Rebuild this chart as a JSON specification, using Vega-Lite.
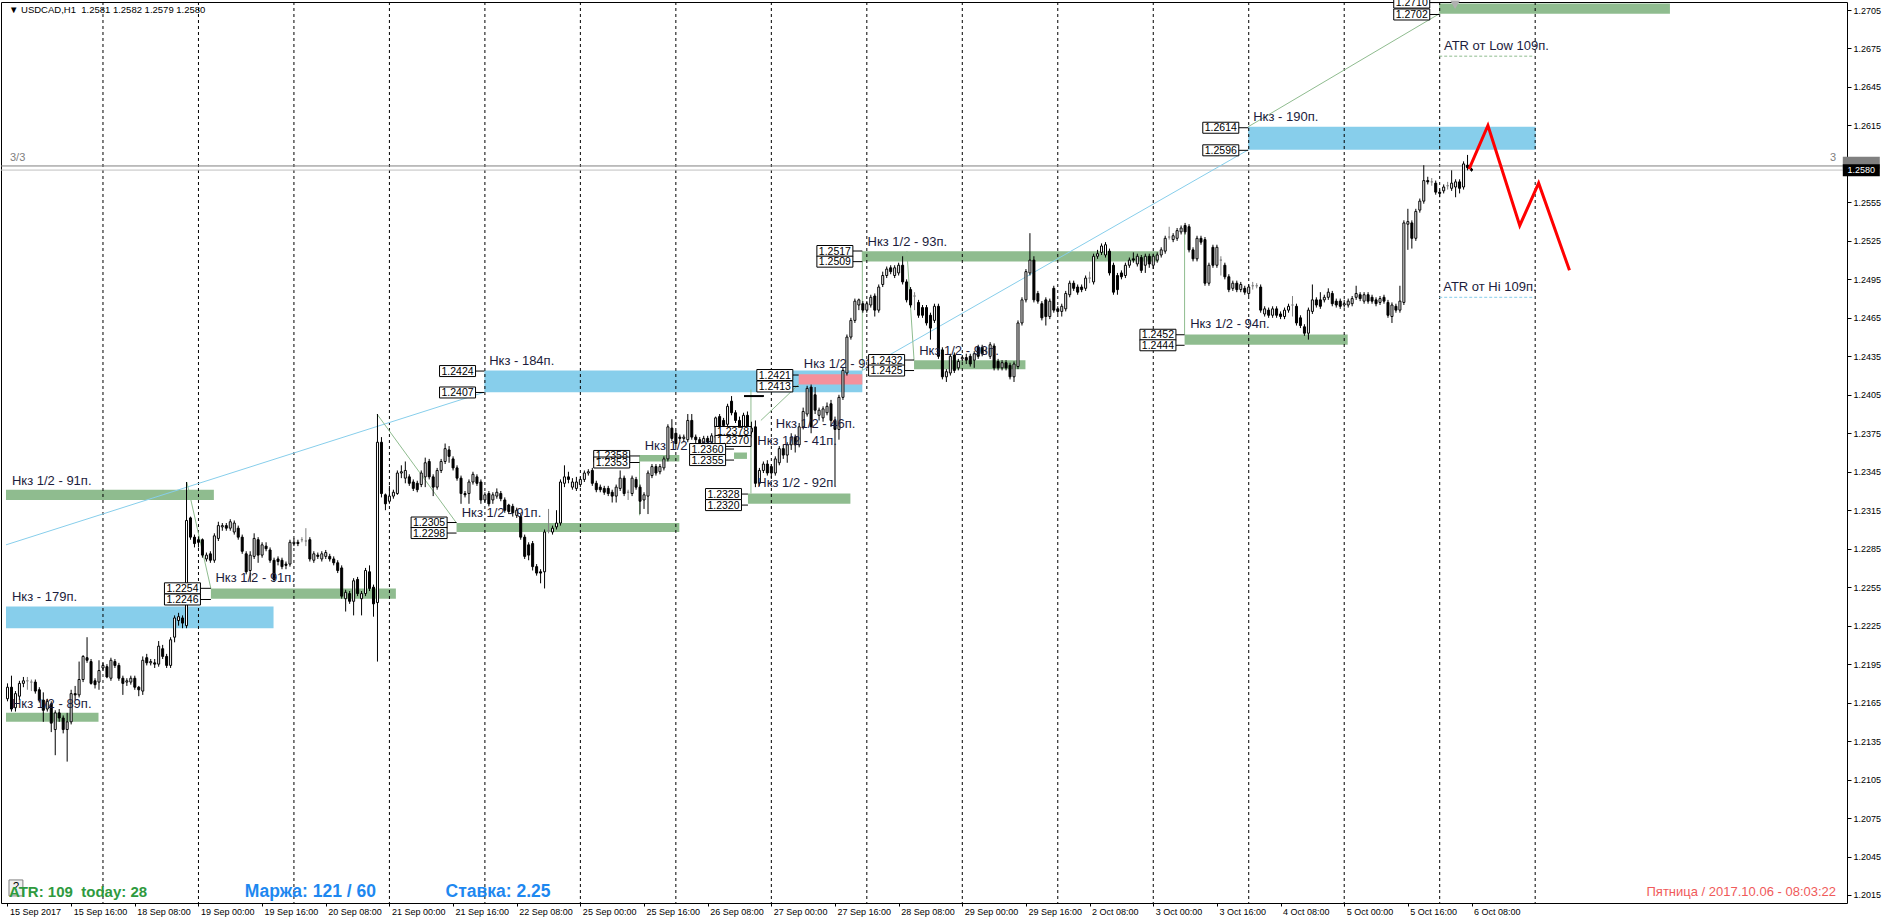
{
"$schema": "https://vega.github.io/schema/vega-lite/v6.json",
"width": 1846, "height": 901,
"autosize": "none",
"padding": {"left": 1, "top": 2, "right": 42, "bottom": 18},
"background": "white",
"view": {"stroke": "#000", "strokeWidth": 1},
"config": {"axis": {"labelOverlap": false}},
"resolve": {"axis": {"x": "independent", "y": "independent"}},
"datasets": {
"candles": [
{"i":0,"o":1.2168,"h":1.2180,"l":1.2166,"c":1.2177},{"i":1,"o":1.2177,"h":1.2186,"l":1.2158,"c":1.2160},{"i":2,"o":1.2161,"h":1.2174,"l":1.2158,"c":1.2172},{"i":3,"o":1.2170,"h":1.2182,"l":1.2167,"c":1.2180},{"i":4,"o":1.2180,"h":1.2185,"l":1.2177,"c":1.2182},{"i":5,"o":1.2182,"h":1.2185,"l":1.2175,"c":1.2182},{"i":6,"o":1.2181,"h":1.2183,"l":1.2174,"c":1.2181},{"i":7,"o":1.2181,"h":1.2183,"l":1.2172,"c":1.2174},{"i":8,"o":1.2175,"h":1.2177,"l":1.2165,"c":1.2167},{"i":9,"o":1.2167,"h":1.2173,"l":1.2150,"c":1.2159},
{"i":10,"o":1.2160,"h":1.2168,"l":1.2158,"c":1.2166},{"i":11,"o":1.2164,"h":1.2166,"l":1.2142,"c":1.2149},{"i":12,"o":1.2144,"h":1.2159,"l":1.2124,"c":1.2157},{"i":13,"o":1.2157,"h":1.2160,"l":1.2150,"c":1.2153},{"i":14,"o":1.2153,"h":1.2155,"l":1.2141,"c":1.2144},{"i":15,"o":1.2144,"h":1.2157,"l":1.2119,"c":1.2150},{"i":16,"o":1.2150,"h":1.2175,"l":1.2148,"c":1.2172},{"i":17,"o":1.2172,"h":1.2178,"l":1.2167,"c":1.2171},{"i":18,"o":1.2171,"h":1.2197,"l":1.2169,"c":1.2183},{"i":19,"o":1.2183,"h":1.2202,"l":1.2181,"c":1.2201},
{"i":20,"o":1.2200,"h":1.2216,"l":1.2196,"c":1.2198},{"i":21,"o":1.2197,"h":1.2199,"l":1.2179,"c":1.2180},{"i":22,"o":1.2182,"h":1.2184,"l":1.2176,"c":1.2179},{"i":23,"o":1.2181,"h":1.2198,"l":1.2175,"c":1.2190},{"i":24,"o":1.2192,"h":1.2196,"l":1.2190,"c":1.2194},{"i":25,"o":1.2193,"h":1.2195,"l":1.2184,"c":1.2185},{"i":26,"o":1.2184,"h":1.2200,"l":1.2182,"c":1.2198},{"i":27,"o":1.2197,"h":1.2199,"l":1.2192,"c":1.2194},{"i":28,"o":1.2194,"h":1.2196,"l":1.2182,"c":1.2184},{"i":29,"o":1.2184,"h":1.2186,"l":1.2171,"c":1.2180},
{"i":30,"o":1.2181,"h":1.2184,"l":1.2178,"c":1.2182},{"i":31,"o":1.2181,"h":1.2186,"l":1.2179,"c":1.2184},{"i":32,"o":1.2184,"h":1.2186,"l":1.2175,"c":1.2177},{"i":33,"o":1.2177,"h":1.2178,"l":1.2170,"c":1.2175},{"i":34,"o":1.2174,"h":1.2201,"l":1.2171,"c":1.2198},{"i":35,"o":1.2200,"h":1.2203,"l":1.2194,"c":1.2196},{"i":36,"o":1.2196,"h":1.2199,"l":1.2194,"c":1.2197},{"i":37,"o":1.2196,"h":1.2199,"l":1.2192,"c":1.2195},{"i":38,"o":1.2195,"h":1.2213,"l":1.2193,"c":1.2209},{"i":39,"o":1.2207,"h":1.2210,"l":1.2199,"c":1.2201},
{"i":40,"o":1.2201,"h":1.2203,"l":1.2192,"c":1.2194},{"i":41,"o":1.2194,"h":1.2216,"l":1.2192,"c":1.2214},{"i":42,"o":1.2216,"h":1.2233,"l":1.2212,"c":1.2231},{"i":43,"o":1.2229,"h":1.2235,"l":1.2225,"c":1.2232},{"i":44,"o":1.2231,"h":1.2233,"l":1.2223,"c":1.2227},{"i":45,"o":1.2225,"h":1.2337,"l":1.2223,"c":1.2307},{"i":46,"o":1.2309,"h":1.2310,"l":1.2292,"c":1.2294},{"i":47,"o":1.2294,"h":1.2296,"l":1.2286,"c":1.2289},{"i":48,"o":1.2292,"h":1.2294,"l":1.2286,"c":1.2290},{"i":49,"o":1.2292,"h":1.2293,"l":1.2278,"c":1.2280},
{"i":50,"o":1.2277,"h":1.2282,"l":1.2275,"c":1.2280},{"i":51,"o":1.2281,"h":1.2283,"l":1.2274,"c":1.2276},{"i":52,"o":1.2276,"h":1.2297,"l":1.2274,"c":1.2295},{"i":53,"o":1.2293,"h":1.2306,"l":1.2291,"c":1.2303},{"i":54,"o":1.2302,"h":1.2305,"l":1.2299,"c":1.2303},{"i":55,"o":1.2303,"h":1.2305,"l":1.2299,"c":1.2301},{"i":56,"o":1.2301,"h":1.2308,"l":1.2299,"c":1.2306},{"i":57,"o":1.2298,"h":1.2307,"l":1.2296,"c":1.2305},{"i":58,"o":1.2301,"h":1.2303,"l":1.2292,"c":1.2294},{"i":59,"o":1.2294,"h":1.2296,"l":1.2281,"c":1.2283},
{"i":60,"o":1.2281,"h":1.2283,"l":1.2265,"c":1.2267},{"i":61,"o":1.2268,"h":1.2283,"l":1.2259,"c":1.2280},{"i":62,"o":1.2279,"h":1.2297,"l":1.2277,"c":1.2293},{"i":63,"o":1.2292,"h":1.2294,"l":1.2274,"c":1.2280},{"i":64,"o":1.2280,"h":1.2290,"l":1.2278,"c":1.2288},{"i":65,"o":1.2287,"h":1.2290,"l":1.2283,"c":1.2285},{"i":66,"o":1.2284,"h":1.2286,"l":1.2274,"c":1.2276},{"i":67,"o":1.2276,"h":1.2278,"l":1.2259,"c":1.2261},{"i":68,"o":1.2277,"h":1.2279,"l":1.2272,"c":1.2275},{"i":69,"o":1.2276,"h":1.2278,"l":1.2269,"c":1.2271},
{"i":70,"o":1.2273,"h":1.2275,"l":1.2269,"c":1.2272},{"i":71,"o":1.2273,"h":1.2292,"l":1.2271,"c":1.2290},{"i":72,"o":1.2289,"h":1.2293,"l":1.2287,"c":1.2290},{"i":73,"o":1.2290,"h":1.2292,"l":1.2287,"c":1.2289},{"i":74,"o":1.2292,"h":1.2294,"l":1.2290,"c":1.2292},{"i":75,"o":1.2291,"h":1.2301,"l":1.2287,"c":1.2291},{"i":76,"o":1.2292,"h":1.2294,"l":1.2275,"c":1.2277},{"i":77,"o":1.2276,"h":1.2283,"l":1.2274,"c":1.2281},{"i":78,"o":1.2280,"h":1.2282,"l":1.2277,"c":1.2279},{"i":79,"o":1.2277,"h":1.2283,"l":1.2275,"c":1.2281},
{"i":80,"o":1.2279,"h":1.2284,"l":1.2277,"c":1.2282},{"i":81,"o":1.2279,"h":1.2281,"l":1.2275,"c":1.2277},{"i":82,"o":1.2277,"h":1.2279,"l":1.2272,"c":1.2274},{"i":83,"o":1.2274,"h":1.2276,"l":1.2266,"c":1.2268},{"i":84,"o":1.2270,"h":1.2272,"l":1.2246,"c":1.2248},{"i":85,"o":1.2246,"h":1.2253,"l":1.2236,"c":1.2251},{"i":86,"o":1.2250,"h":1.2252,"l":1.2242,"c":1.2244},{"i":87,"o":1.2244,"h":1.2262,"l":1.2233,"c":1.2260},{"i":88,"o":1.2261,"h":1.2263,"l":1.2248,"c":1.2250},{"i":89,"o":1.2246,"h":1.2252,"l":1.2233,"c":1.2250},
{"i":90,"o":1.2250,"h":1.2270,"l":1.2248,"c":1.2268},{"i":91,"o":1.2267,"h":1.2272,"l":1.2252,"c":1.2254},{"i":92,"o":1.2255,"h":1.2257,"l":1.2232,"c":1.2242},{"i":93,"o":1.2243,"h":1.2390,"l":1.2197,"c":1.2368},{"i":94,"o":1.2368,"h":1.2372,"l":1.2325,"c":1.2328},{"i":95,"o":1.2327,"h":1.2328,"l":1.2315,"c":1.2320},{"i":96,"o":1.2322,"h":1.2334,"l":1.2320,"c":1.2326},{"i":97,"o":1.2326,"h":1.2331,"l":1.2324,"c":1.2329},{"i":98,"o":1.2328,"h":1.2346,"l":1.2327,"c":1.2344},{"i":99,"o":1.2344,"h":1.2350,"l":1.2340,"c":1.2345},
{"i":100,"o":1.2340,"h":1.2353,"l":1.2336,"c":1.2346},{"i":101,"o":1.2341,"h":1.2343,"l":1.2334,"c":1.2336},{"i":102,"o":1.2337,"h":1.2339,"l":1.2330,"c":1.2332},{"i":103,"o":1.2336,"h":1.2338,"l":1.2329,"c":1.2331},{"i":104,"o":1.2335,"h":1.2346,"l":1.2333,"c":1.2344},{"i":105,"o":1.2341,"h":1.2356,"l":1.2333,"c":1.2352},{"i":106,"o":1.2353,"h":1.2355,"l":1.2339,"c":1.2341},{"i":107,"o":1.2341,"h":1.2343,"l":1.2326,"c":1.2333},{"i":108,"o":1.2333,"h":1.2348,"l":1.2331,"c":1.2346},{"i":109,"o":1.2346,"h":1.2355,"l":1.2344,"c":1.2353},
{"i":110,"o":1.2353,"h":1.2367,"l":1.2351,"c":1.2363},{"i":111,"o":1.2362,"h":1.2365,"l":1.2352,"c":1.2357},{"i":112,"o":1.2355,"h":1.2357,"l":1.2346,"c":1.2348},{"i":113,"o":1.2348,"h":1.2350,"l":1.2338,"c":1.2340},{"i":114,"o":1.2340,"h":1.2342,"l":1.2320,"c":1.2328},{"i":115,"o":1.2328,"h":1.2330,"l":1.2325,"c":1.2327},{"i":116,"o":1.2328,"h":1.2339,"l":1.2320,"c":1.2337},{"i":117,"o":1.2337,"h":1.2345,"l":1.2335,"c":1.2343},{"i":118,"o":1.2341,"h":1.2343,"l":1.2334,"c":1.2336},{"i":119,"o":1.2337,"h":1.2339,"l":1.2320,"c":1.2323},
{"i":120,"o":1.2323,"h":1.2329,"l":1.2321,"c":1.2327},{"i":121,"o":1.2328,"h":1.2330,"l":1.2318,"c":1.2320},{"i":122,"o":1.2323,"h":1.2329,"l":1.2320,"c":1.2327},{"i":123,"o":1.2326,"h":1.2332,"l":1.2324,"c":1.2329},{"i":124,"o":1.2328,"h":1.2330,"l":1.2322,"c":1.2324},{"i":125,"o":1.2323,"h":1.2325,"l":1.2313,"c":1.2315},{"i":126,"o":1.2319,"h":1.2320,"l":1.2312,"c":1.2314},{"i":127,"o":1.2318,"h":1.2320,"l":1.2310,"c":1.2313},{"i":128,"o":1.2311,"h":1.2317,"l":1.2309,"c":1.2315},{"i":129,"o":1.2310,"h":1.2312,"l":1.2292,"c":1.2294},
{"i":130,"o":1.2294,"h":1.2296,"l":1.2277,"c":1.2279},{"i":131,"o":1.2288,"h":1.2290,"l":1.2276,"c":1.2280},{"i":132,"o":1.2289,"h":1.2291,"l":1.2268,"c":1.2271},{"i":133,"o":1.2271,"h":1.2273,"l":1.2264,"c":1.2266},{"i":134,"o":1.2267,"h":1.2269,"l":1.2258,"c":1.2266},{"i":135,"o":1.2267,"h":1.2300,"l":1.2254,"c":1.2298},{"i":136,"o":1.2299,"h":1.2316,"l":1.2297,"c":1.2299},{"i":137,"o":1.2298,"h":1.2303,"l":1.2296,"c":1.2301},{"i":138,"o":1.2302,"h":1.2315,"l":1.2300,"c":1.2305},{"i":139,"o":1.2305,"h":1.2339,"l":1.2303,"c":1.2337},
{"i":140,"o":1.2336,"h":1.2350,"l":1.2333,"c":1.2341},{"i":141,"o":1.2341,"h":1.2345,"l":1.2336,"c":1.2339},{"i":142,"o":1.2333,"h":1.2340,"l":1.2331,"c":1.2337},{"i":143,"o":1.2332,"h":1.2341,"l":1.2330,"c":1.2337},{"i":144,"o":1.2335,"h":1.2341,"l":1.2333,"c":1.2339},{"i":145,"o":1.2339,"h":1.2346,"l":1.2337,"c":1.2344},{"i":146,"o":1.2344,"h":1.2347,"l":1.2342,"c":1.2345},{"i":147,"o":1.2346,"h":1.2348,"l":1.2334,"c":1.2336},{"i":148,"o":1.2336,"h":1.2338,"l":1.2329,"c":1.2331},{"i":149,"o":1.2333,"h":1.2335,"l":1.2329,"c":1.2331},
{"i":150,"o":1.2332,"h":1.2334,"l":1.2327,"c":1.2329},{"i":151,"o":1.2332,"h":1.2334,"l":1.2326,"c":1.2328},{"i":152,"o":1.2329,"h":1.2331,"l":1.2321,"c":1.2326},{"i":153,"o":1.2326,"h":1.2335,"l":1.2321,"c":1.2333},{"i":154,"o":1.2332,"h":1.2346,"l":1.2330,"c":1.2340},{"i":155,"o":1.2340,"h":1.2342,"l":1.2326,"c":1.2328},{"i":156,"o":1.2329,"h":1.2331,"l":1.2323,"c":1.2329},{"i":157,"o":1.2328,"h":1.2342,"l":1.2326,"c":1.2340},{"i":158,"o":1.2339,"h":1.2341,"l":1.2331,"c":1.2333},{"i":159,"o":1.2333,"h":1.2335,"l":1.2312,"c":1.2322},
{"i":160,"o":1.2323,"h":1.2329,"l":1.2316,"c":1.2327},{"i":161,"o":1.2326,"h":1.2346,"l":1.2312,"c":1.2344},{"i":162,"o":1.2342,"h":1.2351,"l":1.2340,"c":1.2349},{"i":163,"o":1.2349,"h":1.2351,"l":1.2342,"c":1.2344},{"i":164,"o":1.2345,"h":1.2351,"l":1.2343,"c":1.2349},{"i":165,"o":1.2348,"h":1.2357,"l":1.2346,"c":1.2355},{"i":166,"o":1.2355,"h":1.2382,"l":1.2353,"c":1.2380},{"i":167,"o":1.2379,"h":1.2386,"l":1.2369,"c":1.2371},{"i":168,"o":1.2375,"h":1.2377,"l":1.2365,"c":1.2367},{"i":169,"o":1.2372,"h":1.2374,"l":1.2369,"c":1.2371},
{"i":170,"o":1.2371,"h":1.2374,"l":1.2368,"c":1.2372},{"i":171,"o":1.2370,"h":1.2390,"l":1.2368,"c":1.2385},{"i":172,"o":1.2385,"h":1.2390,"l":1.2370,"c":1.2372},{"i":173,"o":1.2372,"h":1.2374,"l":1.2367,"c":1.2370},{"i":174,"o":1.2370,"h":1.2372,"l":1.2365,"c":1.2367},{"i":175,"o":1.2367,"h":1.2373,"l":1.2365,"c":1.2371},{"i":176,"o":1.2371,"h":1.2373,"l":1.2366,"c":1.2368},{"i":177,"o":1.2368,"h":1.2375,"l":1.2366,"c":1.2373},{"i":178,"o":1.2380,"h":1.2388,"l":1.2371,"c":1.2387},{"i":179,"o":1.2388,"h":1.2390,"l":1.2378,"c":1.2380},
{"i":180,"o":1.2385,"h":1.2387,"l":1.2379,"c":1.2381},{"i":181,"o":1.2382,"h":1.2398,"l":1.2380,"c":1.2396},{"i":182,"o":1.2400,"h":1.2404,"l":1.2389,"c":1.2391},{"i":183,"o":1.2391,"h":1.2393,"l":1.2383,"c":1.2385},{"i":184,"o":1.2385,"h":1.2388,"l":1.2378,"c":1.2380},{"i":185,"o":1.2378,"h":1.2391,"l":1.2376,"c":1.2389},{"i":186,"o":1.2389,"h":1.2392,"l":1.2373,"c":1.2375},{"i":187,"o":1.2376,"h":1.2384,"l":1.2374,"c":1.2379},{"i":188,"o":1.2380,"h":1.2385,"l":1.2333,"c":1.2336},{"i":189,"o":1.2336,"h":1.2348,"l":1.2334,"c":1.2346},
{"i":190,"o":1.2346,"h":1.2353,"l":1.2344,"c":1.2351},{"i":191,"o":1.2351,"h":1.2354,"l":1.2342,"c":1.2344},{"i":192,"o":1.2349,"h":1.2351,"l":1.2340,"c":1.2344},{"i":193,"o":1.2344,"h":1.2357,"l":1.2342,"c":1.2355},{"i":194,"o":1.2352,"h":1.2365,"l":1.2350,"c":1.2363},{"i":195,"o":1.2363,"h":1.2366,"l":1.2355,"c":1.2358},{"i":196,"o":1.2358,"h":1.2368,"l":1.2352,"c":1.2366},{"i":197,"o":1.2366,"h":1.2375,"l":1.2362,"c":1.2372},{"i":198,"o":1.2372,"h":1.2374,"l":1.2360,"c":1.2366},{"i":199,"o":1.2366,"h":1.2383,"l":1.2364,"c":1.2380},
{"i":200,"o":1.2380,"h":1.2395,"l":1.2378,"c":1.2392},{"i":201,"o":1.2390,"h":1.2412,"l":1.2388,"c":1.2410},{"i":202,"o":1.2411,"h":1.2413,"l":1.2375,"c":1.2380},{"i":203,"o":1.2405,"h":1.2411,"l":1.2390,"c":1.2393},{"i":204,"o":1.2389,"h":1.2395,"l":1.2385,"c":1.2393},{"i":205,"o":1.2387,"h":1.2396,"l":1.2384,"c":1.2394},{"i":206,"o":1.2391,"h":1.2399,"l":1.2389,"c":1.2396},{"i":207,"o":1.2398,"h":1.2401,"l":1.2380,"c":1.2385},{"i":208,"o":1.2385,"h":1.2388,"l":1.2334,"c":1.2378},{"i":209,"o":1.2378,"h":1.2405,"l":1.2370,"c":1.2403},
{"i":210,"o":1.2403,"h":1.2426,"l":1.2401,"c":1.2424},{"i":211,"o":1.2422,"h":1.2452,"l":1.2420,"c":1.2450},{"i":212,"o":1.2450,"h":1.2465,"l":1.2448,"c":1.2463},{"i":213,"o":1.2463,"h":1.2480,"l":1.2461,"c":1.2478},{"i":214,"o":1.2475,"h":1.2480,"l":1.2471,"c":1.2479},{"i":215,"o":1.2476,"h":1.2478,"l":1.2469,"c":1.2471},{"i":216,"o":1.2471,"h":1.2478,"l":1.2469,"c":1.2476},{"i":217,"o":1.2475,"h":1.2483,"l":1.2473,"c":1.2481},{"i":218,"o":1.2482,"h":1.2484,"l":1.2466,"c":1.2471},{"i":219,"o":1.2471,"h":1.2491,"l":1.2469,"c":1.2489},
{"i":220,"o":1.2491,"h":1.2501,"l":1.2489,"c":1.2498},{"i":221,"o":1.2498,"h":1.2505,"l":1.2496,"c":1.2503},{"i":222,"o":1.2504,"h":1.2506,"l":1.2499,"c":1.2501},{"i":223,"o":1.2498,"h":1.2506,"l":1.2496,"c":1.2504},{"i":224,"o":1.2500,"h":1.2508,"l":1.2498,"c":1.2506},{"i":225,"o":1.2506,"h":1.2513,"l":1.2491,"c":1.2493},{"i":226,"o":1.2493,"h":1.2495,"l":1.2477,"c":1.2479},{"i":227,"o":1.2487,"h":1.2489,"l":1.2473,"c":1.2475},{"i":228,"o":1.2482,"h":1.2485,"l":1.2471,"c":1.2482},{"i":229,"o":1.2477,"h":1.2479,"l":1.2465,"c":1.2467},
{"i":230,"o":1.2473,"h":1.2475,"l":1.2465,"c":1.2467},{"i":231,"o":1.2473,"h":1.2475,"l":1.2459,"c":1.2461},{"i":232,"o":1.2467,"h":1.2469,"l":1.2448,"c":1.2457},{"i":233,"o":1.2463,"h":1.2476,"l":1.2461,"c":1.2474},{"i":234,"o":1.2474,"h":1.2476,"l":1.2433,"c":1.2435},{"i":235,"o":1.2440,"h":1.2442,"l":1.2417,"c":1.2419},{"i":236,"o":1.2419,"h":1.2425,"l":1.2415,"c":1.2423},{"i":237,"o":1.2422,"h":1.2437,"l":1.2420,"c":1.2435},{"i":238,"o":1.2436,"h":1.2438,"l":1.2422,"c":1.2424},{"i":239,"o":1.2426,"h":1.2433,"l":1.2424,"c":1.2431},
{"i":240,"o":1.2433,"h":1.2436,"l":1.2431,"c":1.2434},{"i":241,"o":1.2434,"h":1.2437,"l":1.2429,"c":1.2432},{"i":242,"o":1.2435,"h":1.2437,"l":1.2427,"c":1.2429},{"i":243,"o":1.2432,"h":1.2439,"l":1.2426,"c":1.2437},{"i":244,"o":1.2442,"h":1.2444,"l":1.2433,"c":1.2435},{"i":245,"o":1.2442,"h":1.2444,"l":1.2435,"c":1.2437},{"i":246,"o":1.2439,"h":1.2442,"l":1.2436,"c":1.2439},{"i":247,"o":1.2435,"h":1.2446,"l":1.2433,"c":1.2444},{"i":248,"o":1.2443,"h":1.2445,"l":1.2424,"c":1.2426},{"i":249,"o":1.2431,"h":1.2433,"l":1.2424,"c":1.2426},
{"i":250,"o":1.2426,"h":1.2432,"l":1.2424,"c":1.2430},{"i":251,"o":1.2430,"h":1.2432,"l":1.2424,"c":1.2426},{"i":252,"o":1.2428,"h":1.2430,"l":1.2417,"c":1.2419},{"i":253,"o":1.2419,"h":1.2431,"l":1.2415,"c":1.2429},{"i":254,"o":1.2427,"h":1.2463,"l":1.2425,"c":1.2461},{"i":255,"o":1.2461,"h":1.2481,"l":1.2459,"c":1.2479},{"i":256,"o":1.2479,"h":1.2503,"l":1.2477,"c":1.2501},{"i":257,"o":1.2500,"h":1.2531,"l":1.2498,"c":1.2510},{"i":258,"o":1.2510,"h":1.2513,"l":1.2477,"c":1.2479},{"i":259,"o":1.2484,"h":1.2486,"l":1.2476,"c":1.2478},
{"i":260,"o":1.2476,"h":1.2478,"l":1.2463,"c":1.2465},{"i":261,"o":1.2479,"h":1.2481,"l":1.2459,"c":1.2466},{"i":262,"o":1.2466,"h":1.2480,"l":1.2464,"c":1.2478},{"i":263,"o":1.2488,"h":1.2490,"l":1.2469,"c":1.2471},{"i":264,"o":1.2472,"h":1.2474,"l":1.2468,"c":1.2470},{"i":265,"o":1.2470,"h":1.2476,"l":1.2466,"c":1.2474},{"i":266,"o":1.2472,"h":1.2486,"l":1.2470,"c":1.2484},{"i":267,"o":1.2483,"h":1.2494,"l":1.2481,"c":1.2492},{"i":268,"o":1.2492,"h":1.2494,"l":1.2486,"c":1.2488},{"i":269,"o":1.2489,"h":1.2491,"l":1.2483,"c":1.2485},
{"i":270,"o":1.2489,"h":1.2491,"l":1.2485,"c":1.2487},{"i":271,"o":1.2488,"h":1.2498,"l":1.2486,"c":1.2496},{"i":272,"o":1.2496,"h":1.2501,"l":1.2492,"c":1.2496},{"i":273,"o":1.2493,"h":1.2515,"l":1.2491,"c":1.2513},{"i":274,"o":1.2513,"h":1.2518,"l":1.2511,"c":1.2515},{"i":275,"o":1.2516,"h":1.2523,"l":1.2514,"c":1.2521},{"i":276,"o":1.2514,"h":1.2524,"l":1.2512,"c":1.2522},{"i":277,"o":1.2517,"h":1.2519,"l":1.2498,"c":1.2500},{"i":278,"o":1.2506,"h":1.2508,"l":1.2483,"c":1.2485},{"i":279,"o":1.2498,"h":1.2500,"l":1.2483,"c":1.2487},
{"i":280,"o":1.2500,"h":1.2502,"l":1.2495,"c":1.2497},{"i":281,"o":1.2498,"h":1.2508,"l":1.2496,"c":1.2506},{"i":282,"o":1.2506,"h":1.2512,"l":1.2504,"c":1.2510},{"i":283,"o":1.2511,"h":1.2516,"l":1.2508,"c":1.2510},{"i":284,"o":1.2507,"h":1.2515,"l":1.2505,"c":1.2513},{"i":285,"o":1.2512,"h":1.2514,"l":1.2500,"c":1.2502},{"i":286,"o":1.2506,"h":1.2515,"l":1.2500,"c":1.2513},{"i":287,"o":1.2513,"h":1.2515,"l":1.2504,"c":1.2507},{"i":288,"o":1.2506,"h":1.2515,"l":1.2503,"c":1.2513},{"i":289,"o":1.2510,"h":1.2516,"l":1.2508,"c":1.2514},
{"i":290,"o":1.2514,"h":1.2520,"l":1.2512,"c":1.2518},{"i":291,"o":1.2517,"h":1.2529,"l":1.2515,"c":1.2527},{"i":292,"o":1.2528,"h":1.2536,"l":1.2526,"c":1.2528},{"i":293,"o":1.2526,"h":1.2531,"l":1.2524,"c":1.2529},{"i":294,"o":1.2527,"h":1.2535,"l":1.2525,"c":1.2533},{"i":295,"o":1.2532,"h":1.2537,"l":1.2530,"c":1.2535},{"i":296,"o":1.2537,"h":1.2539,"l":1.2530,"c":1.2532},{"i":297,"o":1.2536,"h":1.2538,"l":1.2516,"c":1.2518},{"i":298,"o":1.2518,"h":1.2520,"l":1.2509,"c":1.2511},{"i":299,"o":1.2511,"h":1.2529,"l":1.2509,"c":1.2527},
{"i":300,"o":1.2527,"h":1.2529,"l":1.2522,"c":1.2524},{"i":301,"o":1.2526,"h":1.2528,"l":1.2490,"c":1.2492},{"i":302,"o":1.2492,"h":1.2508,"l":1.2490,"c":1.2506},{"i":303,"o":1.2520,"h":1.2522,"l":1.2504,"c":1.2506},{"i":304,"o":1.2506,"h":1.2522,"l":1.2504,"c":1.2520},{"i":305,"o":1.2510,"h":1.2513,"l":1.2498,"c":1.2510},{"i":306,"o":1.2506,"h":1.2508,"l":1.2495,"c":1.2497},{"i":307,"o":1.2497,"h":1.2499,"l":1.2485,"c":1.2487},{"i":308,"o":1.2488,"h":1.2494,"l":1.2486,"c":1.2492},{"i":309,"o":1.2492,"h":1.2494,"l":1.2485,"c":1.2487},
{"i":310,"o":1.2487,"h":1.2493,"l":1.2485,"c":1.2491},{"i":311,"o":1.2488,"h":1.2490,"l":1.2483,"c":1.2485},{"i":312,"o":1.2484,"h":1.2491,"l":1.2482,"c":1.2489},{"i":313,"o":1.2490,"h":1.2493,"l":1.2487,"c":1.2490},{"i":314,"o":1.2490,"h":1.2492,"l":1.2488,"c":1.2490},{"i":315,"o":1.2489,"h":1.2491,"l":1.2469,"c":1.2471},{"i":316,"o":1.2468,"h":1.2474,"l":1.2466,"c":1.2472},{"i":317,"o":1.2471,"h":1.2473,"l":1.2465,"c":1.2467},{"i":318,"o":1.2467,"h":1.2474,"l":1.2465,"c":1.2472},{"i":319,"o":1.2472,"h":1.2474,"l":1.2465,"c":1.2467},
{"i":320,"o":1.2468,"h":1.2470,"l":1.2464,"c":1.2466},{"i":321,"o":1.2466,"h":1.2473,"l":1.2464,"c":1.2471},{"i":322,"o":1.2471,"h":1.2476,"l":1.2469,"c":1.2474},{"i":323,"o":1.2475,"h":1.2482,"l":1.2466,"c":1.2475},{"i":324,"o":1.2474,"h":1.2476,"l":1.2459,"c":1.2461},{"i":325,"o":1.2465,"h":1.2467,"l":1.2457,"c":1.2459},{"i":326,"o":1.2458,"h":1.2460,"l":1.2451,"c":1.2453},{"i":327,"o":1.2453,"h":1.2473,"l":1.2448,"c":1.2471},{"i":328,"o":1.2470,"h":1.2491,"l":1.2468,"c":1.2479},{"i":329,"o":1.2479,"h":1.2481,"l":1.2473,"c":1.2475},
{"i":330,"o":1.2479,"h":1.2485,"l":1.2472,"c":1.2474},{"i":331,"o":1.2479,"h":1.2483,"l":1.2477,"c":1.2481},{"i":332,"o":1.2481,"h":1.2488,"l":1.2479,"c":1.2485},{"i":333,"o":1.2484,"h":1.2486,"l":1.2474,"c":1.2476},{"i":334,"o":1.2478,"h":1.2480,"l":1.2473,"c":1.2475},{"i":335,"o":1.2478,"h":1.2480,"l":1.2472,"c":1.2474},{"i":336,"o":1.2475,"h":1.2479,"l":1.2473,"c":1.2476},{"i":337,"o":1.2475,"h":1.2480,"l":1.2473,"c":1.2478},{"i":338,"o":1.2476,"h":1.2482,"l":1.2474,"c":1.2480},{"i":339,"o":1.2481,"h":1.2490,"l":1.2479,"c":1.2484},
{"i":340,"o":1.2483,"h":1.2485,"l":1.2478,"c":1.2480},{"i":341,"o":1.2478,"h":1.2485,"l":1.2476,"c":1.2483},{"i":342,"o":1.2483,"h":1.2485,"l":1.2476,"c":1.2478},{"i":343,"o":1.2481,"h":1.2483,"l":1.2476,"c":1.2478},{"i":344,"o":1.2479,"h":1.2481,"l":1.2474,"c":1.2476},{"i":345,"o":1.2477,"h":1.2482,"l":1.2475,"c":1.2480},{"i":346,"o":1.2481,"h":1.2483,"l":1.2476,"c":1.2478},{"i":347,"o":1.2477,"h":1.2479,"l":1.2465,"c":1.2467},{"i":348,"o":1.2466,"h":1.2477,"l":1.2461,"c":1.2475},{"i":349,"o":1.2474,"h":1.2476,"l":1.2469,"c":1.2471},
{"i":350,"o":1.2471,"h":1.2490,"l":1.2469,"c":1.2478},{"i":351,"o":1.2477,"h":1.2541,"l":1.2475,"c":1.2539},{"i":352,"o":1.2538,"h":1.2550,"l":1.2518,"c":1.2540},{"i":353,"o":1.2539,"h":1.2541,"l":1.2519,"c":1.2527},{"i":354,"o":1.2527,"h":1.2550,"l":1.2525,"c":1.2548},{"i":355,"o":1.2549,"h":1.2558,"l":1.2547,"c":1.2556},{"i":356,"o":1.2556,"h":1.2584,"l":1.2554,"c":1.2572},{"i":357,"o":1.2572,"h":1.2575,"l":1.2569,"c":1.2571},{"i":358,"o":1.2571,"h":1.2574,"l":1.2568,"c":1.2571},{"i":359,"o":1.2570,"h":1.2572,"l":1.2561,"c":1.2563},
{"i":360,"o":1.2563,"h":1.2565,"l":1.2559,"c":1.2562},{"i":361,"o":1.2564,"h":1.2569,"l":1.2562,"c":1.2567},{"i":362,"o":1.2568,"h":1.2571,"l":1.2565,"c":1.2568},{"i":363,"o":1.2566,"h":1.2580,"l":1.2564,"c":1.2570},{"i":364,"o":1.2567,"h":1.2573,"l":1.2559,"c":1.2571},{"i":365,"o":1.2571,"h":1.2573,"l":1.2562,"c":1.2566},{"i":366,"o":1.2567,"h":1.2587,"l":1.2565,"c":1.2585},{"i":367,"o":1.2584,"h":1.2592,"l":1.2580,"c":1.2582},{"i":368,"o":1.2581,"h":1.2582,"l":1.2579,"c":1.2580}
],
"grid": [{"i":24},{"i":48},{"i":72},{"i":96},{"i":120},{"i":144},{"i":168},{"i":192},{"i":216},{"i":240},{"i":264},{"i":288},{"i":312},{"i":336},{"i":360},{"i":384}],
"zones": [
{"x1":-0.25,"x2":52,"y1":1.2331,"y2":1.2323,"k":"g"},
{"x1":-0.25,"x2":67,"y1":1.2240,"y2":1.2223,"k":"b"},
{"x1":-0.25,"x2":23,"y1":1.2157,"y2":1.2150,"k":"g"},
{"x1":51.25,"x2":97.75,"y1":1.2254,"y2":1.2246,"k":"g"},
{"x1":120,"x2":215,"y1":1.2424,"y2":1.2407,"k":"b"},
{"x1":199,"x2":215,"y1":1.2421,"y2":1.2413,"k":"p"},
{"x1":215,"x2":289.5,"y1":1.2517,"y2":1.2509,"k":"g"},
{"x1":228,"x2":256,"y1":1.2432,"y2":1.2425,"k":"g"},
{"x1":296,"x2":337,"y1":1.2452,"y2":1.2444,"k":"g"},
{"x1":186.25,"x2":212,"y1":1.2328,"y2":1.2320,"k":"g"},
{"x1":113,"x2":169,"y1":1.2305,"y2":1.2298,"k":"g"},
{"x1":159,"x2":169,"y1":1.2358,"y2":1.2353,"k":"g"},
{"x1":182.75,"x2":186,"y1":1.2360,"y2":1.2355,"k":"g"},
{"x1":312,"x2":384.25,"y1":1.2614,"y2":1.2596,"k":"b"},
{"x1":360,"x2":418,"y1":1.2710,"y2":1.2702,"k":"g"}
],
"tlines": [
{"x1":-0.25,"y1":1.2288,"x2":120,"y2":1.2407,"k":"b"},
{"x1":215,"y1":1.2424,"x2":312,"y2":1.2596,"k":"b"},
{"x1":312,"y1":1.2614,"x2":360,"y2":1.2702,"k":"g"},
{"x1":45.2,"y1":1.2337,"x2":51.25,"y2":1.2254,"k":"g"},
{"x1":93,"y1":1.2390,"x2":113,"y2":1.2305,"k":"g"},
{"x1":215,"y1":1.2517,"x2":215,"y2":1.2424,"k":"g"},
{"x1":226.2,"y1":1.2517,"x2":228,"y2":1.2432,"k":"g"},
{"x1":296,"y1":1.2537,"x2":296,"y2":1.2452,"k":"g"},
{"x1":159,"y1":1.2358,"x2":159,"y2":1.2311,"k":"g"},
{"x1":187,"y1":1.2409,"x2":187,"y2":1.2328,"k":"g"},
{"x1":189.5,"y1":1.2385,"x2":199,"y2":1.2413,"k":"g"}
],
"conn": [
{"x1":48.6,"x2":51.25,"y":1.22541},{"x1":48.6,"x2":51.25,"y":1.22454},
{"x1":117.75,"x2":120,"y":1.24235},{"x1":117.75,"x2":120,"y":1.24068},
{"x1":110.6,"x2":113,"y":1.23054},{"x1":110.6,"x2":113,"y":1.22972},
{"x1":156.5,"x2":159,"y":1.23573},{"x1":156.5,"x2":159,"y":1.23522},
{"x1":197.5,"x2":199,"y":1.24204},{"x1":197.5,"x2":199,"y":1.24115},
{"x1":184.6,"x2":186.25,"y":1.23276},{"x1":184.6,"x2":186.25,"y":1.23190},
{"x1":180.6,"x2":182.75,"y":1.23627},{"x1":180.6,"x2":182.75,"y":1.23541},
{"x1":212.6,"x2":215,"y":1.25171},{"x1":212.6,"x2":215,"y":1.25088},
{"x1":225.6,"x2":228,"y":1.24321},{"x1":225.6,"x2":228,"y":1.24239},
{"x1":293.8,"x2":296,"y":1.24518},{"x1":293.8,"x2":296,"y":1.24436},
{"x1":309.6,"x2":312,"y":1.26132},{"x1":309.6,"x2":312,"y":1.25956},
{"x1":357.6,"x2":360,"y":1.27108},{"x1":357.6,"x2":360,"y":1.27015}
],
"labels": [
{"x":1.25,"y":1.23378,"t":"Нкз 1/2 - 91п."},
{"x":1.25,"y":1.22473,"t":"Нкз - 179п."},
{"x":1.25,"y":1.21637,"t":"Нкз 1/2 - 89п."},
{"x":52.4,"y":1.22619,"t":"Нкз 1/2 - 91п."},
{"x":121.2,"y":1.24316,"t":"Нкз - 184п."},
{"x":114.3,"y":1.23126,"t":"Нкз 1/2 - 91п."},
{"x":160.3,"y":1.23653,"t":"Нкз 1/2 - 46п."},
{"x":216.3,"y":1.25239,"t":"Нкз 1/2 - 93п."},
{"x":229.3,"y":1.24394,"t":"Нкз 1/2 - 93п."},
{"x":200.3,"y":1.24288,"t":"Нкз 1/2 - 92п."},
{"x":297.4,"y":1.24602,"t":"Нкз 1/2 - 94п."},
{"x":313.25,"y":1.26213,"t":"Нкз - 190п."},
{"x":188.6,"y":1.23362,"t":"Нкз 1/2 - 92п."},
{"x":193.25,"y":1.23822,"t":"Нкз 1/2 - 46п."},
{"x":188.6,"y":1.23690,"t":"Нкз 1/2 - 41п."},
{"x":361.2,"y":1.26772,"t":"ATR от Low 109п."},
{"x":361,"y":1.24893,"t":"ATR от Hi 109п."}
],
"boxes": [
{"x":44.1,"y":1.22541,"t":"1.2254"},{"x":44.1,"y":1.22454,"t":"1.2246"},
{"x":113.25,"y":1.24235,"t":"1.2424"},{"x":113.25,"y":1.24068,"t":"1.2407"},
{"x":106.1,"y":1.23054,"t":"1.2305"},{"x":106.1,"y":1.22972,"t":"1.2298"},
{"x":152,"y":1.23573,"t":"1.2358"},{"x":152,"y":1.23522,"t":"1.2353"},
{"x":193,"y":1.24204,"t":"1.2421"},{"x":193,"y":1.24115,"t":"1.2413"},
{"x":180.1,"y":1.23276,"t":"1.2328"},{"x":180.1,"y":1.23190,"t":"1.2320"},
{"x":182.5,"y":1.23760,"t":"1.2378"},{"x":182.5,"y":1.23690,"t":"1.2370"},
{"x":176.1,"y":1.23627,"t":"1.2360"},{"x":176.1,"y":1.23541,"t":"1.2355"},
{"x":208.1,"y":1.25171,"t":"1.2517"},{"x":208.1,"y":1.25088,"t":"1.2509"},
{"x":221.1,"y":1.24321,"t":"1.2432"},{"x":221.1,"y":1.24239,"t":"1.2425"},
{"x":289.3,"y":1.24518,"t":"1.2452"},{"x":289.3,"y":1.24436,"t":"1.2444"},
{"x":305.1,"y":1.26132,"t":"1.2614"},{"x":305.1,"y":1.25956,"t":"1.2596"},
{"x":353.1,"y":1.27108,"t":"1.2710"},{"x":353.1,"y":1.27015,"t":"1.2702"}
],
"zigzag": [
{"k":1,"x":367.5,"y":1.2581},{"k":2,"x":372.25,"y":1.2615},{"k":3,"x":380.25,"y":1.2537},{"k":4,"x":385,"y":1.2570},{"k":5,"x":392.75,"y":1.2502}
],
"atr": [
{"x1":360,"x2":384,"y":1.2669,"k":"low"},
{"x1":360,"x2":384,"y":1.2481,"k":"hi"}
]
},
"layer": [
{
"data": {"name": "zones"},
"mark": {"type": "rect"},
"encoding": {
"x": {"field": "x1", "type": "quantitative", "scale": {"domain": [-0.25, 461.25], "nice": false, "zero": false},
  "axis": {"orient": "bottom", "values": [0,16,32,48,64,80,96,112,128,144,160,176,192,208,224,240,256,272,288,304,320,336,352,368],
  "labelExpr": "['15 Sep 2017','15 Sep 16:00','18 Sep 08:00','19 Sep 00:00','19 Sep 16:00','20 Sep 08:00','21 Sep 00:00','21 Sep 16:00','22 Sep 08:00','25 Sep 00:00','25 Sep 16:00','26 Sep 08:00','27 Sep 00:00','27 Sep 16:00','28 Sep 08:00','29 Sep 00:00','29 Sep 16:00','2 Oct 08:00','3 Oct 00:00','3 Oct 16:00','4 Oct 08:00','5 Oct 00:00','5 Oct 16:00','6 Oct 08:00'][round(datum.value/16)]",
  "title": null, "grid": false, "domain": false, "ticks": true, "tickSize": 3, "tickColor": "#000", "tickOffset": 0.5,
  "labelAlign": "left", "labelBaseline": "top", "labelPadding": 1, "labelOffset": 2,
  "labelFont": "Liberation Sans", "labelFontSize": 9, "labelColor": "#000", "labelOverlap": false, "labelFlush": false, "labelBound": false}},
"x2": {"field": "x2"},
"y": {"field": "y1", "type": "quantitative", "scale": {"domain": [1.200876, 1.271124], "nice": false, "zero": false},
  "axis": {"orient": "right", "values": [1.2015,1.2045,1.2075,1.2105,1.2135,1.2165,1.2195,1.2225,1.2255,1.2285,1.2315,1.2345,1.2375,1.2405,1.2435,1.2465,1.2495,1.2525,1.2555,1.2615,1.2645,1.2675,1.2705],
  "format": ".4f", "title": null, "grid": false, "domain": false, "ticks": true, "tickSize": 4, "tickColor": "#000",
  "labelAlign": "left", "labelBaseline": "middle", "labelPadding": 2,
  "labelFont": "Liberation Sans", "labelFontSize": 9, "labelColor": "#000", "labelOverlap": false, "labelFlush": false, "labelBound": false}},
"y2": {"field": "y2"},
"fill": {"field": "k", "type": "nominal", "scale": {"domain": ["g", "b", "p"], "range": ["#8fbc8f", "#87ceeb", "#f4919c"]}, "legend": null}
}
},
{
"data": {"name": "grid"},
"mark": {"type": "rule", "stroke": "#000", "strokeWidth": 1, "strokeDash": [3, 3], "xOffset": 0.5},
"encoding": {
"x": {"field": "i", "type": "quantitative", "scale": {"domain": [-0.25, 461.25], "nice": false, "zero": false}, "axis": null}
}
},
{
"data": {"values": [{"y": 1.25834}]},
"mark": {"type": "rule", "stroke": "#808080", "strokeWidth": 1},
"encoding": {"y": {"field": "y", "type": "quantitative", "scale": {"domain": [1.200876, 1.271124], "nice": false, "zero": false}, "axis": null}}
},
{
"data": {"values": [{"y": 1.25802}]},
"mark": {"type": "rule", "stroke": "#c0c0c0", "strokeWidth": 1},
"encoding": {"y": {"field": "y", "type": "quantitative", "scale": {"domain": [1.200876, 1.271124], "nice": false, "zero": false}, "axis": null}}
},
{
"data": {"name": "tlines"},
"mark": {"type": "rule", "strokeWidth": 1},
"encoding": {
"x": {"field": "x1", "type": "quantitative", "scale": {"domain": [-0.25, 461.25], "nice": false, "zero": false}, "axis": null},
"x2": {"field": "x2"},
"y": {"field": "y1", "type": "quantitative", "scale": {"domain": [1.200876, 1.271124], "nice": false, "zero": false}, "axis": null},
"y2": {"field": "y2"},
"stroke": {"field": "k", "type": "nominal", "scale": {"domain": ["g", "b"], "range": ["#8fbc8f", "#87ceeb"]}, "legend": null}
}
},
{
"data": {"name": "conn"},
"mark": {"type": "rule", "stroke": "#000", "strokeWidth": 1},
"encoding": {
"x": {"field": "x1", "type": "quantitative", "scale": {"domain": [-0.25, 461.25], "nice": false, "zero": false}, "axis": null},
"x2": {"field": "x2"},
"y": {"field": "y", "type": "quantitative", "scale": {"domain": [1.200876, 1.271124], "nice": false, "zero": false}, "axis": null}
}
},
{
"data": {"name": "candles"},
"mark": {"type": "rule", "strokeWidth": 1, "xOffset": 0.5},
"encoding": {
"x": {"field": "i", "type": "quantitative", "scale": {"domain": [-0.25, 461.25], "nice": false, "zero": false}, "axis": null},
"y": {"field": "l", "type": "quantitative", "scale": {"domain": [1.200876, 1.271124], "nice": false, "zero": false}, "axis": null},
"y2": {"field": "h"},
"stroke": {"condition": {"test": "datum.o == datum.c", "value": "#808080"}, "value": "#000"}
}
},
{
"data": {"name": "candles"},
"mark": {"type": "bar", "orient": "vertical", "width": 2, "strokeWidth": 1, "xOffset": 0.5},
"encoding": {
"x": {"field": "i", "type": "quantitative", "scale": {"domain": [-0.25, 461.25], "nice": false, "zero": false}, "axis": null},
"y": {"field": "o", "type": "quantitative", "scale": {"domain": [1.200876, 1.271124], "nice": false, "zero": false}, "axis": null},
"y2": {"field": "c"},
"fill": {"condition": {"test": "datum.c >= datum.o", "value": "#ffffff"}, "value": "#000000"},
"stroke": {"condition": {"test": "datum.o == datum.c", "value": "#808080"}, "value": "#000"}
}
},
{
"data": {"values": [{"x1": 185.25, "x2": 190.25, "y": 1.2404}]},
"mark": {"type": "rule", "stroke": "#000", "strokeWidth": 2},
"encoding": {
"x": {"field": "x1", "type": "quantitative", "scale": {"domain": [-0.25, 461.25], "nice": false, "zero": false}, "axis": null},
"x2": {"field": "x2"},
"y": {"field": "y", "type": "quantitative", "scale": {"domain": [1.200876, 1.271124], "nice": false, "zero": false}, "axis": null}
}
},
{
"data": {"name": "zigzag"},
"mark": {"type": "line", "stroke": "#ff0000", "strokeWidth": 3},
"encoding": {
"x": {"field": "x", "type": "quantitative", "scale": {"domain": [-0.25, 461.25], "nice": false, "zero": false}, "axis": null},
"y": {"field": "y", "type": "quantitative", "scale": {"domain": [1.200876, 1.271124], "nice": false, "zero": false}, "axis": null},
"order": {"field": "k", "type": "quantitative"}
}
},
{
"data": {"name": "atr"},
"mark": {"type": "rule", "strokeWidth": 1, "strokeDash": [3, 2]},
"encoding": {
"x": {"field": "x1", "type": "quantitative", "scale": {"domain": [-0.25, 461.25], "nice": false, "zero": false}, "axis": null},
"x2": {"field": "x2"},
"y": {"field": "y", "type": "quantitative", "scale": {"domain": [1.200876, 1.271124], "nice": false, "zero": false}, "axis": null},
"stroke": {"field": "k", "type": "nominal", "scale": {"domain": ["low", "hi"], "range": ["#228b22", "#ff0000"]}, "legend": null}
}
},
{
"data": {"values": [{"x": 364, "y": 1.27095}]},
"mark": {"type": "point", "shape": "triangle-down", "size": 40, "filled": true, "fill": "#b0b0b0", "stroke": "#b0b0b0", "opacity": 1},
"encoding": {
"x": {"field": "x", "type": "quantitative", "scale": {"domain": [-0.25, 461.25], "nice": false, "zero": false}, "axis": null},
"y": {"field": "y", "type": "quantitative", "scale": {"domain": [1.200876, 1.271124], "nice": false, "zero": false}, "axis": null}
}
},
{
"data": {"name": "labels"},
"mark": {"type": "text", "align": "left", "baseline": "middle", "font": "Liberation Sans", "fontSize": 13, "fill": "#1c1c3c"},
"encoding": {
"x": {"field": "x", "type": "quantitative", "scale": {"domain": [-0.25, 461.25], "nice": false, "zero": false}, "axis": null},
"y": {"field": "y", "type": "quantitative", "scale": {"domain": [1.200876, 1.271124], "nice": false, "zero": false}, "axis": null},
"text": {"field": "t"}
}
},
{
"data": {"name": "boxes"},
"mark": {"type": "point", "shape": "M-1,-0.3056H1V0.3056H-1Z", "size": 1296, "filled": true, "fill": "#ffffff", "stroke": "#000", "strokeWidth": 1, "opacity": 1},
"encoding": {
"x": {"field": "x", "type": "quantitative", "scale": {"domain": [-0.25, 461.25], "nice": false, "zero": false}, "axis": null},
"y": {"field": "y", "type": "quantitative", "scale": {"domain": [1.200876, 1.271124], "nice": false, "zero": false}, "axis": null}
}
},
{
"data": {"name": "boxes"},
"mark": {"type": "text", "align": "center", "baseline": "middle", "font": "Liberation Sans", "fontSize": 10.5, "fill": "#000", "dy": 0.5},
"encoding": {
"x": {"field": "x", "type": "quantitative", "scale": {"domain": [-0.25, 461.25], "nice": false, "zero": false}, "axis": null},
"y": {"field": "y", "type": "quantitative", "scale": {"domain": [1.200876, 1.271124], "nice": false, "zero": false}, "axis": null},
"text": {"field": "t"}
}
},
{
"data": {"values": [{"x": -0.25, "y": 1.2705, "t": "▼ USDCAD,H1\u00a0 1.2581 1.2582 1.2579 1.2580"}]},
"mark": {"type": "text", "align": "left", "baseline": "middle", "font": "Liberation Sans", "fontSize": 9.5, "fill": "#000", "dx": 3},
"encoding": {
"x": {"field": "x", "type": "quantitative", "scale": {"domain": [-0.25, 461.25], "nice": false, "zero": false}, "axis": null},
"y": {"field": "y", "type": "quantitative", "scale": {"domain": [1.200876, 1.271124], "nice": false, "zero": false}, "axis": null},
"text": {"field": "t"}
}
},
{
"data": {"values": [{"x": 0.75, "y": 1.25896, "t": "3/3"}]},
"mark": {"type": "text", "align": "left", "baseline": "middle", "font": "Liberation Sans", "fontSize": 11, "fill": "#808080"},
"encoding": {
"x": {"field": "x", "type": "quantitative", "scale": {"domain": [-0.25, 461.25], "nice": false, "zero": false}, "axis": null},
"y": {"field": "y", "type": "quantitative", "scale": {"domain": [1.200876, 1.271124], "nice": false, "zero": false}, "axis": null},
"text": {"field": "t"}
}
},
{
"data": {"values": [{"x": 459.75, "y": 1.25896, "t": "3"}]},
"mark": {"type": "text", "align": "right", "baseline": "middle", "font": "Liberation Sans", "fontSize": 11, "fill": "#808080"},
"encoding": {
"x": {"field": "x", "type": "quantitative", "scale": {"domain": [-0.25, 461.25], "nice": false, "zero": false}, "axis": null},
"y": {"field": "y", "type": "quantitative", "scale": {"domain": [1.200876, 1.271124], "nice": false, "zero": false}, "axis": null},
"text": {"field": "t"}
}
},
{
"data": {"values": [{"x": 2.25, "y": 1.20205}]},
"mark": {"type": "point", "shape": "M-0.87,-1H0.87V1H-0.87Z", "size": 256, "filled": true, "fill": "#f0f0f0", "stroke": "#808080", "strokeWidth": 1, "opacity": 1},
"encoding": {
"x": {"field": "x", "type": "quantitative", "scale": {"domain": [-0.25, 461.25], "nice": false, "zero": false}, "axis": null},
"y": {"field": "y", "type": "quantitative", "scale": {"domain": [1.200876, 1.271124], "nice": false, "zero": false}, "axis": null}
}
},
{
"data": {"values": [{"x": 2.25, "y": 1.20215, "t": "?"}]},
"mark": {"type": "text", "align": "center", "baseline": "middle", "font": "Liberation Sans", "fontSize": 11, "fill": "#000"},
"encoding": {
"x": {"field": "x", "type": "quantitative", "scale": {"domain": [-0.25, 461.25], "nice": false, "zero": false}, "axis": null},
"y": {"field": "y", "type": "quantitative", "scale": {"domain": [1.200876, 1.271124], "nice": false, "zero": false}, "axis": null},
"text": {"field": "t"}
}
},
{
"data": {"values": [{"x": 0.5, "y": 1.20177, "t": "ATR: 109\u00a0 today: 28"}]},
"mark": {"type": "text", "align": "left", "baseline": "middle", "font": "Liberation Sans", "fontSize": 15, "fontWeight": "bold", "fill": "#2e9a3e"},
"encoding": {
"x": {"field": "x", "type": "quantitative", "scale": {"domain": [-0.25, 461.25], "nice": false, "zero": false}, "axis": null},
"y": {"field": "y", "type": "quantitative", "scale": {"domain": [1.200876, 1.271124], "nice": false, "zero": false}, "axis": null},
"text": {"field": "t"}
}
},
{
"data": {"values": [{"x": 59.75, "y": 1.20177, "t": "Маржа: 121 / 60"}, {"x": 110.25, "y": 1.20177, "t": "Ставка: 2.25"}]},
"mark": {"type": "text", "align": "left", "baseline": "middle", "font": "Liberation Sans", "fontSize": 17.5, "fontWeight": "bold", "fill": "#1e88f0"},
"encoding": {
"x": {"field": "x", "type": "quantitative", "scale": {"domain": [-0.25, 461.25], "nice": false, "zero": false}, "axis": null},
"y": {"field": "y", "type": "quantitative", "scale": {"domain": [1.200876, 1.271124], "nice": false, "zero": false}, "axis": null},
"text": {"field": "t"}
}
},
{
"data": {"values": [{"x": 459.75, "y": 1.20177, "t": "Пятница  /  2017.10.06  -  08:03:22"}]},
"mark": {"type": "text", "align": "right", "baseline": "middle", "font": "Liberation Sans", "fontSize": 13, "fill": "#f05a5a"},
"encoding": {
"x": {"field": "x", "type": "quantitative", "scale": {"domain": [-0.25, 461.25], "nice": false, "zero": false}, "axis": null},
"y": {"field": "y", "type": "quantitative", "scale": {"domain": [1.200876, 1.271124], "nice": false, "zero": false}, "axis": null},
"text": {"field": "t"}
}
},
{
"data": {"values": [{"x": 466.1, "y": 1.2586, "t": "1.2583"}]},
"mark": {"type": "point", "shape": "M-1,-0.286H1V0.286H-1Z", "size": 1225, "filled": true, "fill": "#808080", "stroke": "#808080", "opacity": 1, "clip": false},
"encoding": {
"x": {"field": "x", "type": "quantitative", "scale": {"domain": [-0.25, 461.25], "nice": false, "zero": false}, "axis": null},
"y": {"field": "y", "type": "quantitative", "scale": {"domain": [1.200876, 1.271124], "nice": false, "zero": false}, "axis": null}
}
},
{
"data": {"values": [{"x": 466.1, "y": 1.2580, "t": "1.2580"}]},
"mark": {"type": "point", "shape": "M-1,-0.286H1V0.286H-1Z", "size": 1225, "filled": true, "fill": "#000000", "stroke": "#000", "opacity": 1, "clip": false},
"encoding": {
"x": {"field": "x", "type": "quantitative", "scale": {"domain": [-0.25, 461.25], "nice": false, "zero": false}, "axis": null},
"y": {"field": "y", "type": "quantitative", "scale": {"domain": [1.200876, 1.271124], "nice": false, "zero": false}, "axis": null}
}
},
{
"data": {"values": [{"x": 466.1, "y": 1.2580, "t": "1.2580"}]},
"mark": {"type": "text", "align": "center", "baseline": "middle", "font": "Liberation Sans", "fontSize": 9, "fill": "#ffffff", "clip": false},
"encoding": {
"x": {"field": "x", "type": "quantitative", "scale": {"domain": [-0.25, 461.25], "nice": false, "zero": false}, "axis": null},
"y": {"field": "y", "type": "quantitative", "scale": {"domain": [1.200876, 1.271124], "nice": false, "zero": false}, "axis": null},
"text": {"field": "t"}
}
}
]
}
